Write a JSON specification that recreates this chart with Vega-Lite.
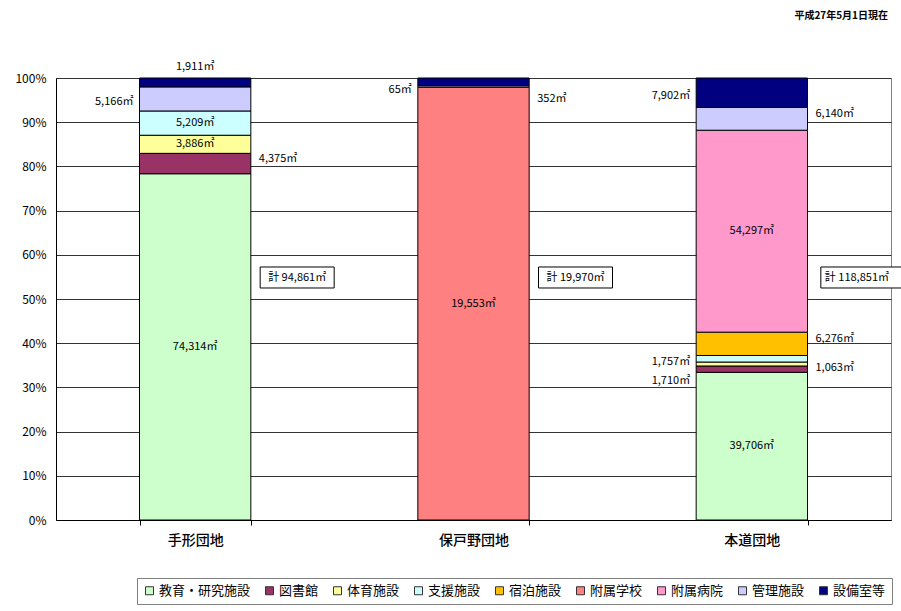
{
  "$schema": "https://vega.github.io/schema/vega-lite/v6.json",
  "width": 835,
  "height": 442,
  "autosize": "none",
  "padding": {"left": 56, "top": 78, "right": 10, "bottom": 91},
  "background": "white",
  "title": {"text": "平成27年5月1日現在", "anchor": "end", "frame": "group", "fontSize": 10, "font": "Noto Sans CJK JP", "fontWeight": "bold", "offset": 40, "color": "black", "dx": -3},
  "config": {
    "view": {"stroke": "#808080", "strokeWidth": 1},
    "font": "Noto Sans CJK JP",
    "text": {"font": "Noto Sans CJK JP", "fontSize": 11, "color": "black"}
  },
  "data": {
    "values": [
      {"site": "手形団地", "cat": "教育・研究施設", "area": 74314},
      {"site": "手形団地", "cat": "図書館", "area": 4375},
      {"site": "手形団地", "cat": "体育施設", "area": 3886},
      {"site": "手形団地", "cat": "支援施設", "area": 5209},
      {"site": "手形団地", "cat": "管理施設", "area": 5166},
      {"site": "手形団地", "cat": "設備室等", "area": 1911},
      {"site": "保戸野団地", "cat": "附属学校", "area": 19553},
      {"site": "保戸野団地", "cat": "管理施設", "area": 65},
      {"site": "保戸野団地", "cat": "設備室等", "area": 352},
      {"site": "本道団地", "cat": "教育・研究施設", "area": 39706},
      {"site": "本道団地", "cat": "図書館", "area": 1710},
      {"site": "本道団地", "cat": "体育施設", "area": 1063},
      {"site": "本道団地", "cat": "支援施設", "area": 1757},
      {"site": "本道団地", "cat": "宿泊施設", "area": 6276},
      {"site": "本道団地", "cat": "附属病院", "area": 54297},
      {"site": "本道団地", "cat": "管理施設", "area": 6140},
      {"site": "本道団地", "cat": "設備室等", "area": 7902}
    ]
  },
  "transform": [
    {"calculate": "indexof(['教育・研究施設','図書館','体育施設','支援施設','宿泊施設','附属学校','附属病院','管理施設','設備室等'], datum.cat)", "as": "k"},
    {"stack": "area", "groupby": ["site"], "sort": [{"field": "k", "order": "ascending"}], "offset": "normalize", "as": ["y0", "y1"]},
    {"calculate": "(datum.y0 + datum.y1) / 2", "as": "mid"},
    {"calculate": "format(datum.area, ',') + '㎡'", "as": "lab"}
  ],
  "layer": [
    {
      "mark": {"type": "bar", "stroke": "black", "strokeWidth": 1},
      "encoding": {
        "x": {
          "field": "site", "type": "nominal", "sort": ["手形団地", "保戸野団地", "本道団地"],
          "scale": {"paddingInner": 0.6, "paddingOuter": 0.3},
          "axis": {"title": null, "labelAngle": 0, "labelFontSize": 14, "labelColor": "black", "labelPadding": 8, "tickBand": "extent", "tickColor": "black", "tickSize": 5, "domainColor": "black", "grid": false, "labelFont": "Noto Sans CJK JP", "labelFontWeight": 500}
        },
        "y": {
          "field": "y0", "type": "quantitative",
          "scale": {"domain": [0, 1], "nice": false},
          "axis": {"title": null, "format": ".0%", "values": [0, 0.1, 0.2, 0.3, 0.4, 0.5, 0.6, 0.7, 0.8, 0.9, 1], "grid": true, "gridColor": "#333333", "gridWidth": 1, "ticks": false, "domainColor": "black", "labelFontSize": 12, "labelColor": "black", "labelPadding": 10, "labelFont": "Noto Sans CJK JP"}
        },
        "y2": {"field": "y1"},
        "color": {
          "field": "cat", "type": "nominal",
          "scale": {
            "domain": ["教育・研究施設", "図書館", "体育施設", "支援施設", "宿泊施設", "附属学校", "附属病院", "管理施設", "設備室等"],
            "range": ["#CCFFCC", "#993366", "#FFFF99", "#CCFFFF", "#FFC000", "#FF8080", "#FF99CC", "#CCCCFF", "#000080"]
          },
          "legend": {
            "title": null, "orient": "none", "legendX": 81, "legendY": 500,
            "direction": "horizontal", "columns": 9, "columnPadding": 12,
            "symbolType": "square", "symbolSize": 64, "symbolStrokeColor": "#333333", "symbolStrokeWidth": 1,
            "labelFontSize": 13, "labelColor": "black", "labelFont": "Noto Sans CJK JP", "labelOffset": 3,
            "strokeColor": "#808080", "padding": 6, "fillColor": "white"
          }
        }
      }
    },
    {
      "transform": [{"filter": "indexof([74314, 3886, 5209, 19553, 54297, 39706], datum.area) >= 0"}],
      "mark": {"type": "text"},
      "encoding": {
        "x": {"field": "site", "type": "nominal", "sort": ["手形団地", "保戸野団地", "本道団地"]},
        "y": {"field": "mid", "type": "quantitative"},
        "text": {"field": "lab"}
      }
    },
    {
      "transform": [{"filter": "indexof([4375, 6140, 6276], datum.area) >= 0"}],
      "mark": {"type": "text", "align": "left", "dx": 8, "dy": -5},
      "encoding": {
        "x": {"field": "site", "type": "nominal", "sort": ["手形団地", "保戸野団地", "本道団地"], "bandPosition": 1},
        "y": {"field": "mid", "type": "quantitative"},
        "text": {"field": "lab"}
      }
    },
    {
      "transform": [{"filter": "datum.area == 1063"}],
      "mark": {"type": "text", "align": "left", "dx": 8, "dy": 4},
      "encoding": {
        "x": {"field": "site", "type": "nominal", "sort": ["手形団地", "保戸野団地", "本道団地"], "bandPosition": 1},
        "y": {"field": "mid", "type": "quantitative"},
        "text": {"field": "lab"}
      }
    },
    {
      "transform": [{"filter": "datum.area == 352"}],
      "mark": {"type": "text", "align": "left", "dx": 8, "dy": 17},
      "encoding": {
        "x": {"field": "site", "type": "nominal", "sort": ["手形団地", "保戸野団地", "本道団地"], "bandPosition": 1},
        "y": {"field": "mid", "type": "quantitative"},
        "text": {"field": "lab"}
      }
    },
    {
      "transform": [{"filter": "indexof([5166, 65, 7902, 1757], datum.area) >= 0"}],
      "mark": {"type": "text", "align": "right", "dx": -6, "dy": 3},
      "encoding": {
        "x": {"field": "site", "type": "nominal", "sort": ["手形団地", "保戸野団地", "本道団地"], "bandPosition": 0},
        "y": {"field": "mid", "type": "quantitative"},
        "text": {"field": "lab"}
      }
    },
    {
      "transform": [{"filter": "datum.area == 1710"}],
      "mark": {"type": "text", "align": "right", "dx": -6, "dy": 12},
      "encoding": {
        "x": {"field": "site", "type": "nominal", "sort": ["手形団地", "保戸野団地", "本道団地"], "bandPosition": 0},
        "y": {"field": "mid", "type": "quantitative"},
        "text": {"field": "lab"}
      }
    },
    {
      "transform": [{"filter": "datum.area == 1911"}],
      "mark": {"type": "text", "dy": -11},
      "encoding": {
        "x": {"field": "site", "type": "nominal", "sort": ["手形団地", "保戸野団地", "本道団地"]},
        "y": {"field": "y1", "type": "quantitative"},
        "text": {"field": "lab"}
      }
    },
    {
      "transform": [
        {"aggregate": [{"op": "sum", "field": "area", "as": "total"}], "groupby": ["site"]},
        {"filter": "datum.site != '本道団地'"},
        {"calculate": "'計 ' + format(datum.total, ',') + '㎡'", "as": "tlab"}
      ],
      "layer": [
        {
          "mark": {"type": "bar", "fill": "white", "stroke": "black", "strokeWidth": 1, "width": 74, "xOffset": 102},
          "encoding": {
            "x": {"field": "site", "type": "nominal", "sort": ["手形団地", "保戸野団地", "本道団地"]},
            "y": {"datum": 0.5724},
            "y2": {"datum": 0.5249}
          }
        },
        {
          "mark": {"type": "text", "dx": 102},
          "encoding": {
            "x": {"field": "site", "type": "nominal", "sort": ["手形団地", "保戸野団地", "本道団地"]},
            "y": {"datum": 0.5486},
            "text": {"field": "tlab"}
          }
        }
      ]
    },
    {
      "transform": [
        {"aggregate": [{"op": "sum", "field": "area", "as": "total"}], "groupby": ["site"]},
        {"filter": "datum.site == '本道団地'"},
        {"calculate": "'計 ' + format(datum.total, ',') + '㎡'", "as": "tlab"}
      ],
      "layer": [
        {
          "mark": {"type": "bar", "fill": "white", "stroke": "black", "strokeWidth": 1, "width": 86, "xOffset": 112},
          "encoding": {
            "x": {"field": "site", "type": "nominal", "sort": ["手形団地", "保戸野団地", "本道団地"]},
            "y": {"datum": 0.5724},
            "y2": {"datum": 0.5249}
          }
        },
        {
          "mark": {"type": "text", "align": "left", "dx": 73},
          "encoding": {
            "x": {"field": "site", "type": "nominal", "sort": ["手形団地", "保戸野団地", "本道団地"]},
            "y": {"datum": 0.5486},
            "text": {"field": "tlab"}
          }
        }
      ]
    }
  ]
}
